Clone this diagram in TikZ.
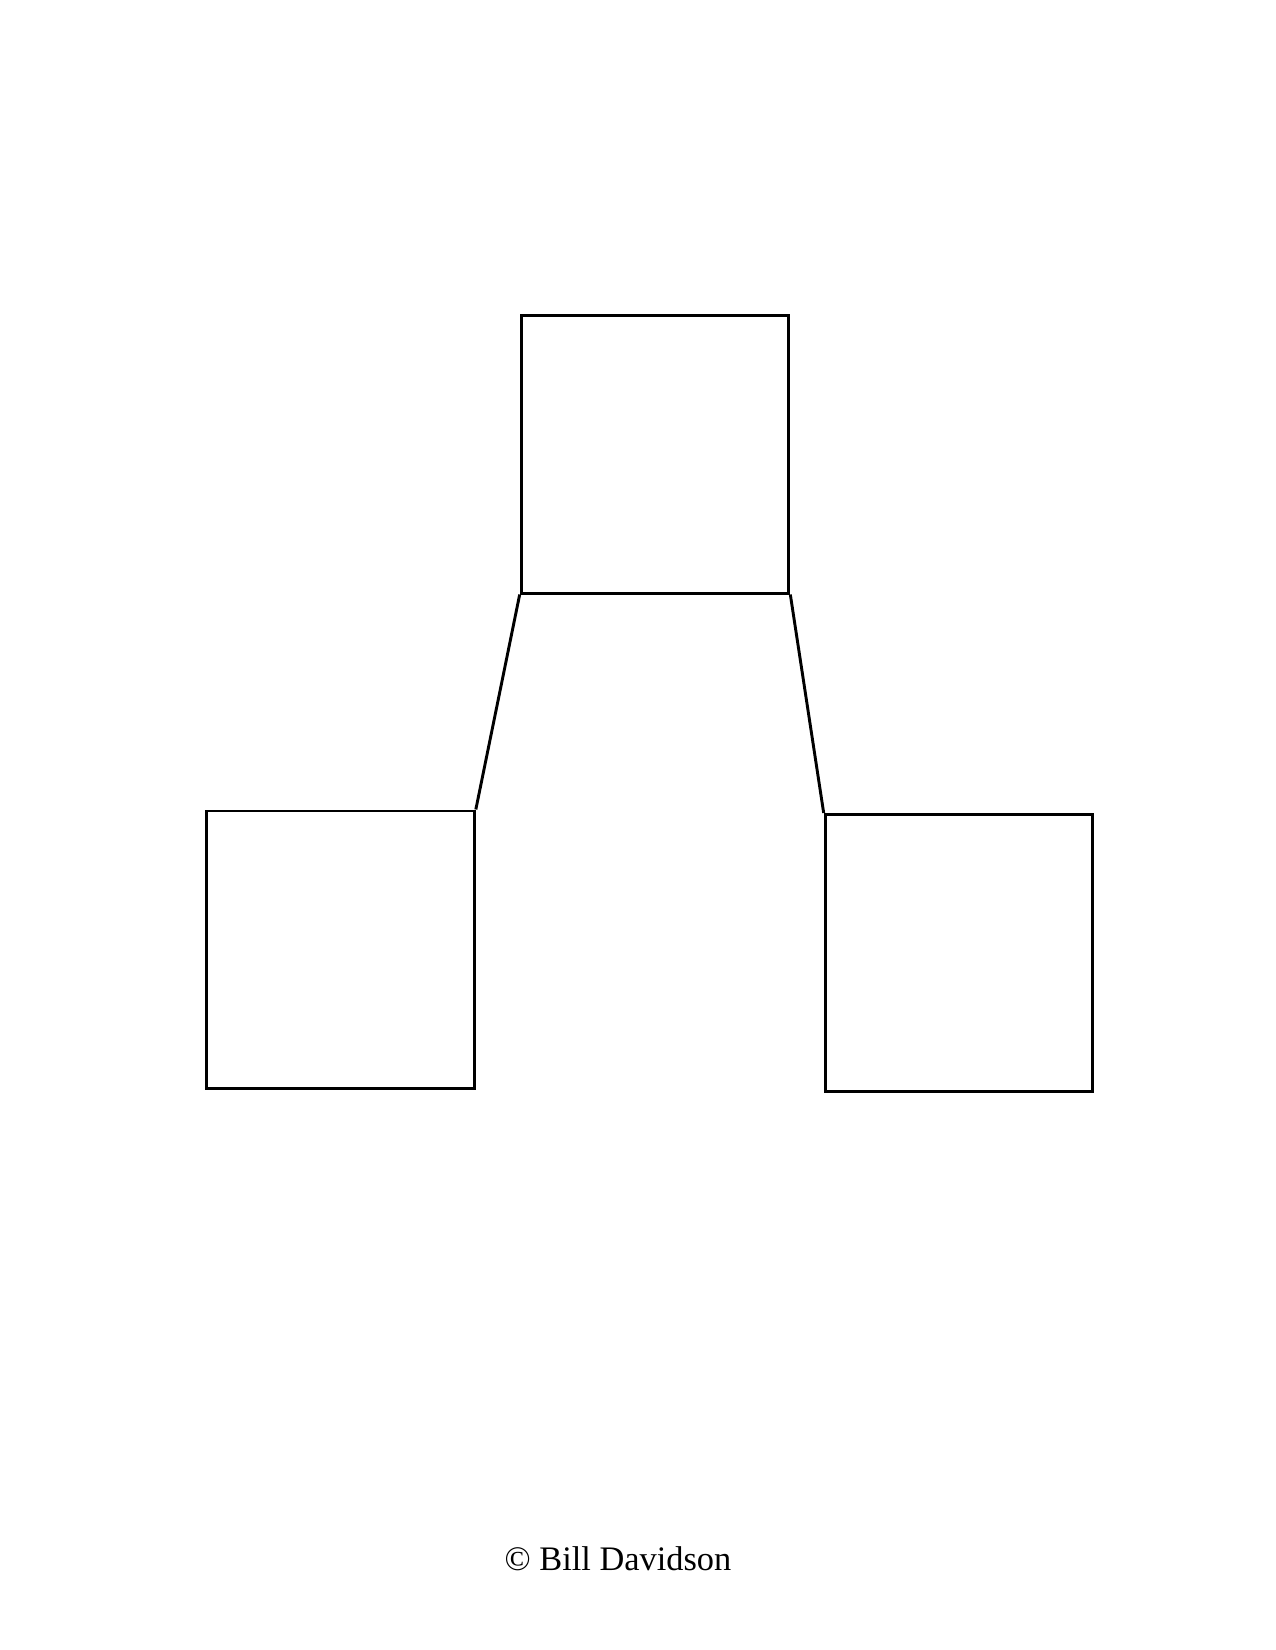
\documentclass[tikz,border=0pt]{standalone}
\usepackage{fontspec}
\setmainfont{Liberation Serif}
\usetikzlibrary{positioning}

\begin{document}
\begin{tikzpicture}[x=0.48pt,y=-0.48pt,
    box/.style={draw,line width=1.4pt,minimum width=128.5pt,minimum height=133pt,inner sep=0pt},
    link/.style={line width=1.4pt}]

    \useasboundingbox (0,0) rectangle (1275,1650); % page

	\node[box] (top) at (655,454.5) {}; % oben
	\node[box] (left) at (340.5,949.5) {};
	\node[box] (right) at (959,953) {};

    \draw[link] (top.south west) -- (left.north east);
    \draw[link] (top.south east) -- (right.north west);

    \node[anchor=base] (copy) at (618,1570) {\fontsize{16.5}{20}\selectfont \textcopyright{} Bill Davidson};

  \end{tikzpicture}
\end{document}
